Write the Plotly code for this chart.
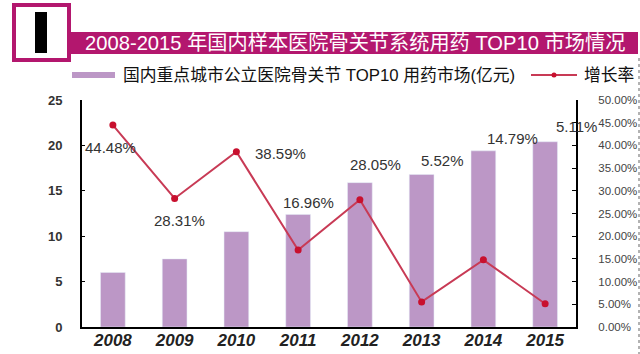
import plotly.graph_objects as go

# ---------------- data ----------------
years = ["2008", "2009", "2010", "2011", "2012", "2013", "2014", "2015"]
market = [6.0, 7.5, 10.5, 12.4, 15.9, 16.8, 19.4, 20.4]          # 亿元
growth = [44.48, 28.31, 38.59, 16.96, 28.05, 5.52, 14.79, 5.11]  # %

title_text = "2008-2015 年国内样本医院骨关节系统用药 TOP10 市场情况"
bar_name = "国内重点城市公立医院骨关节 TOP10 用药市场(亿元)"
line_name = "增长率"

# label offsets (pixels) for growth labels
label_dx = [-2, 5, 44, 10, 16, 21, 29, 31]
label_dy = [-22, -22, -2, 48, 35, 141, 121, 177]

# ---------------- styles ----------------
W, H = 640, 354
L, R, T, B = 82, 64, 100, 27
PW, PH = W - L - R, H - T - B
BAR_C = "#BC97C6"
LINE_C = "#C83A55"
MARK_C = "#C8102E"
MAG = "#B3176E"
FONT = "Liberation Sans, Arial, Noto Sans CJK SC, sans-serif"
Y2MAX = 0.5


def px(x):
    return (x - L) / PW


def py(y):
    return (H - B - y) / PH


idx = list(range(len(years)))

fig = go.Figure()
fig.add_trace(go.Bar(x=idx, y=market, name=bar_name, marker_color=BAR_C,
                     width=0.4, yaxis="y", showlegend=False))
fig.add_trace(go.Scatter(x=idx, y=[g / 100 for g in growth], name=line_name,
                         mode="lines+markers", yaxis="y2",
                         line=dict(color=LINE_C, width=2),
                         marker=dict(color=MARK_C, size=7),
                         showlegend=False))

annotations = []
# growth labels
for i, g, dx, dy in zip(idx, growth, label_dx, label_dy):
    annotations.append(dict(x=i, y=g / 100, xref="x", yref="y2",
                            text=f"{g:.2f}%", showarrow=False,
                            xshift=dx, yshift=dy,
                            font=dict(family=FONT, size=15, color="#333333")))
# title banner text
annotations.append(dict(x=px(83), y=py(43), xref="paper", yref="paper",
                        xanchor="left", yanchor="middle", showarrow=False,
                        text=title_text,
                        font=dict(family=FONT, size=20.2, color="white")))
# legend texts
annotations.append(dict(x=px(121), y=py(75), xref="paper", yref="paper",
                        xanchor="left", yanchor="middle", showarrow=False,
                        text=bar_name,
                        font=dict(family=FONT, size=16.8, color="#111111")))
annotations.append(dict(x=px(582), y=py(75), xref="paper", yref="paper",
                        xanchor="left", yanchor="middle", showarrow=False,
                        text=line_name,
                        font=dict(family=FONT, size=16.8, color="#111111")))

shapes = [
    # banner
    dict(type="rect", xref="paper", yref="paper", x0=px(70), x1=px(638),
         y0=py(54), y1=py(32), fillcolor=MAG, line=dict(width=0), layer="below"),
    # box
    dict(type="rect", xref="paper", yref="paper", x0=px(14), x1=px(69),
         y0=py(60), y1=py(5), fillcolor="white", line=dict(color=MAG, width=4)),
    # black bar
    dict(type="rect", xref="paper", yref="paper", x0=px(35), x1=px(47),
         y0=py(53), y1=py(12), fillcolor="black", line=dict(width=0)),
    # legend swatch
    dict(type="rect", xref="paper", yref="paper", x0=px(72), x1=px(115),
         y0=py(78), y1=py(72), fillcolor=BAR_C, line=dict(width=0)),
    # legend line
    dict(type="line", xref="paper", yref="paper", x0=px(531), x1=px(577),
         y0=py(75), y1=py(75), line=dict(color=LINE_C, width=2)),
    dict(type="circle", xref="paper", yref="paper", x0=px(551.5), x1=px(556.5),
         y0=py(77.5), y1=py(72.5), fillcolor=MARK_C, line=dict(width=0)),
    # dotted border on the right
    dict(type="line", xref="paper", yref="paper", x0=px(639), x1=px(639),
         y0=py(58), y1=py(354), line=dict(color="#666666", width=1, dash="dot")),
]

fig.update_layout(
    width=W, height=H,
    margin=dict(l=L, r=R, t=T, b=B, pad=0, autoexpand=False),
    paper_bgcolor="white", plot_bgcolor="white",
    showlegend=False,
    xaxis=dict(showgrid=False, showline=True, linecolor="black",
               linewidth=2, ticks="", range=[-0.5, len(years) - 0.5],
               tickvals=idx, ticktext=years, zeroline=False, automargin=False,
               tickfont=dict(family=FONT, size=17, color="#222222",
                             style="italic", weight="bold"),
               ticklabelstandoff=-3),
    yaxis=dict(range=[0, 25], dtick=5, showgrid=False, showline=True,
               linecolor="black", linewidth=2, ticks="inside", ticklen=3,
               tickcolor="black", zeroline=False, automargin=False,
               tickfont=dict(family=FONT, size=13, color="#333333", weight="bold"),
               ticklabelstandoff=15),
    yaxis2=dict(range=[0, Y2MAX], dtick=0.05, tickformat=".2%", overlaying="y",
                side="right", showgrid=False, showline=True, linecolor="black",
                linewidth=2, ticks="inside", ticklen=4, tickcolor="black",
                zeroline=False, automargin=False,
                tickfont=dict(family=FONT, size=11.5, color="#444444"),
                ticklabelstandoff=18),
    annotations=annotations,
    shapes=shapes,
)

fig.write_html("out.html")
